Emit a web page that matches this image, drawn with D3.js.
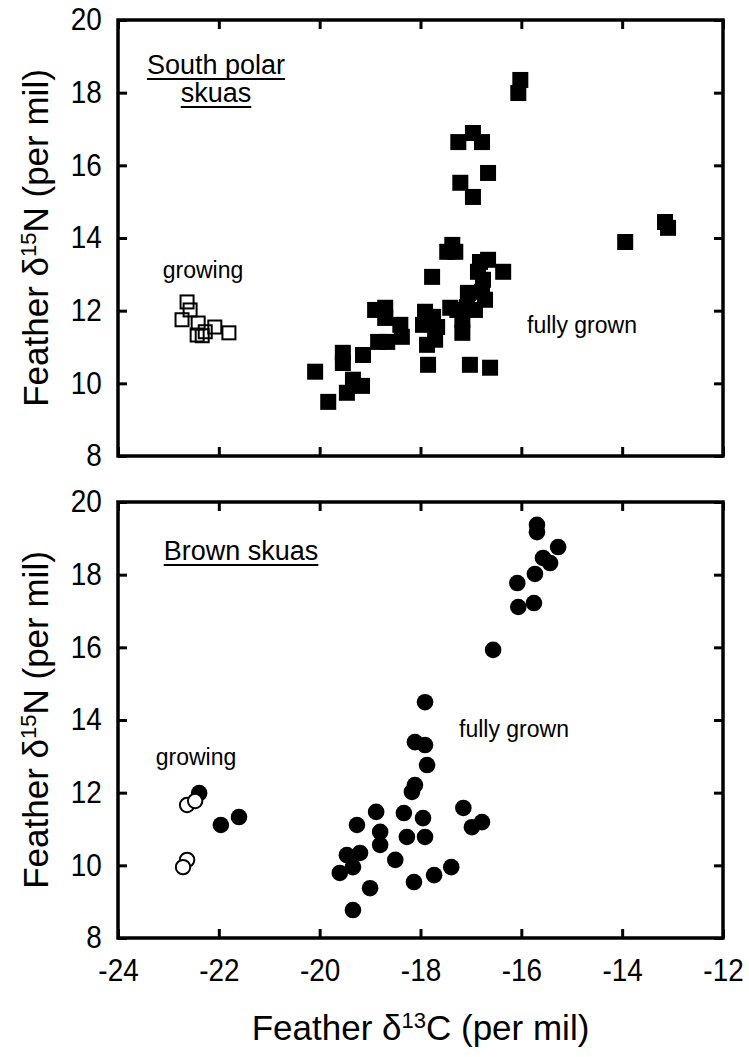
<!DOCTYPE html>
<html>
<head>
<meta charset="utf-8">
<script src="https://cdn.jsdelivr.net/npm/d3@7"></script>
<style>
  body { margin: 0; background: #fff; }
  svg { display: block; }
  text { font-family: "Liberation Sans", Arial, sans-serif; fill: #000; }
</style>
</head>
<body>
<div id="chart"></div>
<script>
// axis ticks
const xTicks = [-24, -22, -20, -18, -16, -14, -12];
const yTicks = [8, 10, 12, 14, 16, 18, 20];

// South polar skuas, [d13C, d15N]
const spGrowing = [
  [-22.63, 12.24], [-22.57, 12.02], [-22.73, 11.75], [-22.41, 11.66], [-22.43, 11.33],
  [-22.33, 11.31], [-22.27, 11.42], [-22.08, 11.55], [-21.80, 11.39]
];
const spFullyGrown = [
  [-20.09, 10.32], [-19.83, 9.49], [-19.54, 10.84], [-19.54, 10.56], [-19.14, 10.78],
  [-19.34, 10.10], [-19.16, 9.93], [-19.46, 9.74], [-18.90, 12.02], [-18.70, 12.08],
  [-18.70, 11.80], [-18.40, 11.61], [-18.37, 11.28], [-18.84, 11.14], [-18.66, 11.14],
  [-17.77, 12.93], [-17.91, 11.97], [-17.75, 11.83], [-17.67, 11.55], [-17.95, 11.61],
  [-17.71, 11.20], [-17.87, 11.06], [-17.85, 10.51], [-17.37, 13.81], [-17.31, 13.62],
  [-17.47, 13.62], [-16.82, 13.34], [-16.66, 13.40], [-16.36, 13.07], [-16.86, 13.07],
  [-16.76, 12.85], [-17.06, 12.49], [-16.78, 12.52], [-16.72, 12.30], [-17.41, 12.08],
  [-17.27, 12.02], [-17.08, 12.10], [-16.92, 12.02], [-17.17, 11.75], [-17.17, 11.39],
  [-17.02, 10.51], [-16.62, 10.43], [-16.02, 18.35], [-16.06, 17.99], [-16.96, 16.89],
  [-17.25, 16.64], [-16.78, 16.64], [-16.66, 15.79], [-17.21, 15.52], [-16.96, 15.13],
  [-13.94, 13.89], [-13.15, 14.44], [-13.09, 14.28]
];

// Brown skuas
const brGrowing = [
  [-22.63, 11.66], [-22.47, 11.77], [-22.63, 10.15], [-22.71, 9.95]
];
const brFullyGrown = [
  [-22.39, 11.99], [-21.96, 11.11], [-21.60, 11.33],
  [-19.26, 11.11], [-18.88, 11.47], [-19.46, 10.28], [-19.20, 10.34], [-19.60, 9.79],
  [-19.34, 9.95], [-19.00, 9.37], [-19.34, 8.77], [-18.80, 10.92], [-18.80, 10.56],
  [-18.50, 10.15], [-18.33, 11.44], [-18.27, 10.78], [-17.95, 11.30], [-17.91, 10.78],
  [-18.17, 12.02], [-18.11, 12.21], [-17.87, 12.76], [-18.11, 13.39], [-17.91, 13.31],
  [-17.91, 14.49], [-17.15, 11.58], [-16.98, 11.05], [-16.78, 11.19], [-17.39, 9.95],
  [-17.73, 9.73], [-18.13, 9.54], [-16.56, 15.93], [-16.08, 17.77], [-16.06, 17.11],
  [-15.75, 17.22], [-15.73, 18.02], [-15.57, 18.46], [-15.43, 18.32], [-15.27, 18.76],
  [-15.69, 19.37], [-15.69, 19.17]
];

const W = 749, H = 1057;
const left = 118, right = 723;

const svg = d3.select("#chart").append("svg")
  .attr("width", W).attr("height", H);

const x = d3.scaleLinear().domain([-24, -12]).range([left, right]);

const panels = [
  {
    top: 20, bottom: 456, shape: "square", hollow: spGrowing, solid: spFullyGrown, showX: false,
    titles: [["South polar", 216, 74], ["skuas", 216, 102]],
    notes: [["growing", 203, 278], ["fully grown", 582, 333]]
  },
  {
    top: 502, bottom: 938, shape: "circle", hollow: brGrowing, solid: brFullyGrown, showX: true,
    titles: [["Brown skuas", 241, 560]],
    notes: [["growing", 196, 765], ["fully grown", 514, 737]]
  }
];

const cond = "scale(0.9,1)";

// "Feather δ^iso El (per mil)"
function isoLabel(sel, iso, el) {
  sel.append("tspan").text("Feather δ");
  sel.append("tspan").attr("font-size", 22).attr("dy", -12).text(iso);
  sel.append("tspan").attr("dy", 12).text(el + " (per mil)");
}

panels.forEach(p => {
  const y = d3.scaleLinear().domain([8, 20]).range([p.bottom, p.top]);
  const g = svg.append("g");

  g.append("g")
    .attr("transform", `translate(0,${p.bottom})`)
    .call(d3.axisBottom(x).tickValues(xTicks).tickSizeInner(-9).tickSizeOuter(0).tickPadding(21)
      .tickFormat(d => p.showX ? String(d) : ""));
  g.append("g")
    .attr("transform", `translate(0,${p.top})`)
    .call(d3.axisTop(x).tickValues(xTicks).tickSizeInner(-9).tickSizeOuter(0).tickFormat(""));
  g.append("g")
    .attr("transform", `translate(${left},0)`)
    .call(d3.axisLeft(y).tickValues(yTicks).tickSizeInner(-9).tickSizeOuter(0).tickPadding(18)
      .tickFormat(d => String(d)));
  g.append("g")
    .attr("transform", `translate(${right},0)`)
    .call(d3.axisRight(y).tickValues(yTicks).tickSizeInner(-9).tickSizeOuter(0).tickFormat(""));

  g.selectAll(".domain").remove();
  g.selectAll(".tick line").attr("stroke", "#000").attr("stroke-width", 3);
  g.selectAll(".tick text").attr("font-size", 31).attr("font-family", null)
    .attr("transform", cond);

  g.append("rect")
    .attr("x", left).attr("y", p.top)
    .attr("width", right - left).attr("height", p.bottom - p.top)
    .attr("fill", "none").attr("stroke", "#000").attr("stroke-width", 3.5);

  // y axis title
  const yl = g.append("text")
    .attr("transform", `translate(48,${(p.top + p.bottom) / 2}) rotate(-90)`)
    .attr("text-anchor", "middle").attr("font-size", 35);
  isoLabel(yl, "15", "N");

  // points
  if (p.shape === "square") {
    g.selectAll(".solid").data(p.solid).join("rect")
      .attr("x", d => x(d[0]) - 8).attr("y", d => y(d[1]) - 8)
      .attr("width", 16).attr("height", 16).attr("fill", "#000");
    g.selectAll(".hollow").data(p.hollow).join("rect")
      .attr("x", d => x(d[0]) - 6.5).attr("y", d => y(d[1]) - 6.5)
      .attr("width", 13).attr("height", 13)
      .attr("fill", "none").attr("stroke", "#000").attr("stroke-width", 2);
  } else {
    g.selectAll(".solid").data(p.solid).join("circle")
      .attr("cx", d => x(d[0])).attr("cy", d => y(d[1])).attr("r", 8.3).attr("fill", "#000");
    g.selectAll(".hollow").data(p.hollow).join("circle")
      .attr("cx", d => x(d[0])).attr("cy", d => y(d[1])).attr("r", 7.2)
      .attr("fill", "#fff").attr("stroke", "#000").attr("stroke-width", 2);
  }

  // underlined panel titles
  p.titles.forEach(([t, cx, by]) => {
    const tx = g.append("text").attr("x", cx).attr("y", by)
      .attr("text-anchor", "middle").attr("font-size", 27).text(t);
    const w = tx.node().getComputedTextLength();
    g.append("line")
      .attr("x1", cx - w / 2).attr("x2", cx + w / 2)
      .attr("y1", by + 5).attr("y2", by + 5)
      .attr("stroke", "#000").attr("stroke-width", 2);
  });
  p.notes.forEach(([t, cx, by]) => {
    g.append("text").attr("x", cx).attr("y", by)
      .attr("text-anchor", "middle").attr("font-size", 23).text(t);
  });
});

// x axis title
const xl = svg.append("text")
  .attr("transform", `translate(${(left + right) / 2},1040)`)
  .attr("text-anchor", "middle").attr("font-size", 35);
isoLabel(xl, "13", "C");
</script>
</body>
</html>
